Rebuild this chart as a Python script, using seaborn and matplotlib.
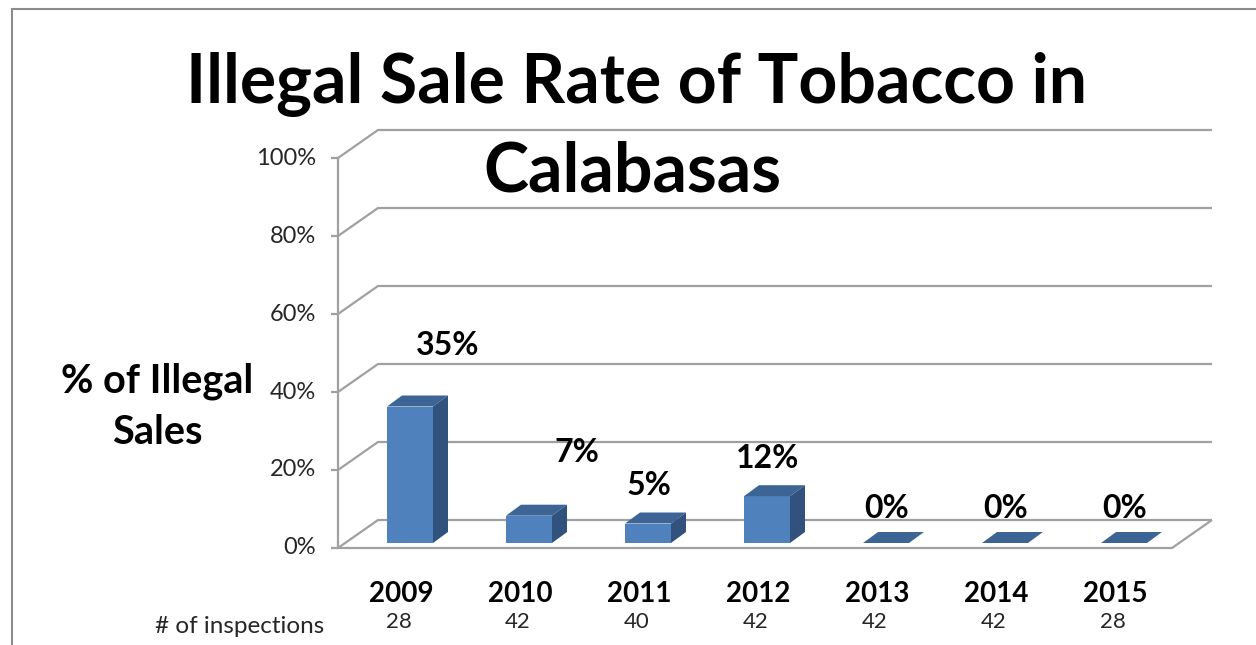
import numpy as np
import pandas as pd
import matplotlib
matplotlib.use("Agg")
import matplotlib.pyplot as plt
import seaborn as sns
from matplotlib.patches import Polygon, Rectangle
from matplotlib.lines import Line2D
from matplotlib.transforms import IdentityTransform

# ---------------- data ----------------
years = ["2009", "2010", "2011", "2012", "2013", "2014", "2015"]
rates = [35, 7, 5, 12, 0, 0, 0]
inspections = [28, 42, 40, 42, 42, 42, 28]
yticks = [0, 20, 40, 60, 80, 100]
title_lines = ["Illegal Sale Rate of Tobacco in", "Calabasas"]
ylabel = "% of Illegal\nSales"
footer_label = "# of inspections"

# label placement nudges (pixels), mimicking the original's label layout
label_nudge_px = [(30, 23), (40, 25), (-7, 0), (-7, 0), (-7, -3), (-7, -3), (-7, -3)]

# ---------------- style ----------------
W, H, DPI = 1256, 645, 100
sns.set_theme(style="white")
plt.rcParams["font.family"] = ["Lato", "DejaVu Sans"]

FRONT = "#4f81bd"
TOP = "#3c6595"
SIDE = "#30527d"
GRID = "#a0a0a0"
TXT = "#262626"

fig = plt.figure(figsize=(W / DPI, H / DPI), dpi=DPI)
ident = IdentityTransform()


def fx(px):
    return px / W


def fy(py):
    return 1 - py / H


# axes = plane of the bars' front faces
L, R, B, T = 345, 1179, 543, 153
SPACING = 119.0
ax = fig.add_axes([fx(L), fy(B), (R - L) / W, (B - T) / H])
ax.set_zorder(1)
df = pd.DataFrame({"year": years, "rate": rates})
sns.barplot(data=df, x="year", y="rate", color=FRONT, saturation=1,
            width=46 / SPACING, linewidth=0, ax=ax)
x_lo, x_hi = (L - 410) / SPACING, (R - 410) / SPACING
ax.set_xlim(x_lo, x_hi)
ax.set_ylim(0, 100)
ax.axis("off")

FRONT_OFF = np.array([-7, -5])
BACK_OFF = np.array([33, 23])
DEPTH = np.array([15, 11])


def disp(x, v, off=(0, 0)):
    return ax.transData.transform((x, v)) + np.asarray(off)


def seg(points):
    pts = np.array(points)
    fig.add_artist(Line2D(pts[:, 0], pts[:, 1], transform=ident,
                          color=GRID, lw=1.6, solid_capstyle="butt", zorder=0))


# walls / gridlines
for v in yticks:
    f = disp(x_lo, v, FRONT_OFF)
    b = disp(x_lo, v, BACK_OFF)
    br = disp(x_hi, v, BACK_OFF)
    seg([f, b, br])
    seg([f - np.array([7, 0]), f])
    ax.annotate(f"{v}%", xy=(x_lo, v), xytext=(-7 - 22, -5),
                textcoords="offset pixels", ha="right", va="center",
                fontsize=17, color=TXT, annotation_clip=False)
# front left axis
seg([disp(x_lo, 0, FRONT_OFF), disp(x_lo, 100, FRONT_OFF)])
# floor front edge and right diagonal
seg([disp(x_lo, 0, FRONT_OFF), disp(x_hi, 0, FRONT_OFF), disp(x_hi, 0, BACK_OFF)])

# 3-D faces of bars
for p, val, (ndx, ndy) in zip(ax.patches, rates, label_nudge_px):
    x0, w, h = p.get_x(), p.get_width(), p.get_height()
    tl, tr = disp(x0, h), disp(x0 + w, h)
    br = disp(x0 + w, 0)
    fig.add_artist(Polygon([tl, tr, tr + DEPTH, tl + DEPTH], closed=True,
                           transform=ident, facecolor=TOP, edgecolor="none", zorder=3))
    if h > 0:
        fig.add_artist(Polygon([br, tr, tr + DEPTH, br + DEPTH], closed=True,
                               transform=ident, facecolor=SIDE, edgecolor="none", zorder=3))
    ax.annotate(f"{val}%", xy=(x0 + w / 2, h),
                xytext=(DEPTH[0] / 2 + ndx, 38 + ndy),
                textcoords="offset pixels", ha="center", va="center",
                fontsize=23, fontweight="bold", color="black", annotation_clip=False)

# category labels and inspection counts
for i, (yr, n) in enumerate(zip(years, inspections)):
    ax.annotate(yr, xy=(i, 0), xytext=(-9, -51), textcoords="offset pixels",
                ha="center", va="center", fontsize=20, fontweight="bold",
                color="black", annotation_clip=False)
    ax.annotate(str(n), xy=(i, 0), xytext=(-11, -85), textcoords="offset pixels",
                ha="center", va="baseline", fontsize=16, color=TXT,
                annotation_clip=False)

fig.text(fx(324), fy(633), footer_label, ha="right", va="baseline",
         fontsize=17.5, color=TXT)

# y-axis title
fig.text(fx(157), fy(407), ylabel, ha="center", va="center", fontsize=28.5,
         fontweight="bold", color="black", linespacing=1.45)

# chart title
fig.text(fx(637), fy(103), title_lines[0], ha="center", va="baseline",
         fontsize=49, fontweight="bold", color="black")
fig.text(fx(632), fy(192), title_lines[1], ha="center", va="baseline",
         fontsize=49, fontweight="bold", color="black")

# outer chart border (top and left visible)
fig.add_artist(Rectangle((fx(12), fy(H + 20)), 1.2, (H + 20 - 9) / H,
                         transform=fig.transFigure, fill=False,
                         edgecolor="#8c8c8c", lw=1.5, zorder=0))

fig.savefig("out.png", dpi=DPI)
